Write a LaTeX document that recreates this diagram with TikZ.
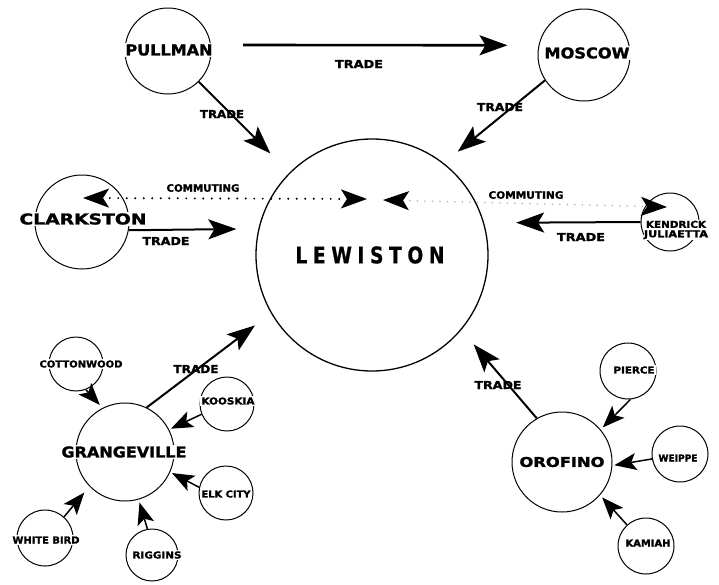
\documentclass[tikz,border=0pt]{standalone}
\usepackage{fontspec}
\usepackage{graphicx}
\newfontfamily\labfont[FakeBold=1.5]{DejaVu Sans Bold}
\newfontfamily\bigfont[FakeBold=0.8]{DejaVu Sans Bold}
\usetikzlibrary{arrows.meta,calc}
\newcommand\mylab[3]{\resizebox{#1pt}{#2pt}{\labfont #3}}
\begin{document}
\begin{tikzpicture}[x=1pt,y=-1pt,
  town/.style={circle,draw,line width=1pt,inner sep=0pt},
  townname/.style={inner sep=1.2pt,fill=white,anchor=center},
  lbl/.style={inner sep=0pt,anchor=center},
  trade/.style={line width=2pt,-{Stealth[length=28pt,width=20pt,inset=6pt,fill=black]}},
  feed/.style={line width=1.5pt,-{Stealth[length=22pt,width=17pt,inset=5pt,fill=black]}},
  commute/.style={line width=2.2pt,line cap=round,dash pattern=on 0pt off 8.5pt,
    {Stealth[length=26pt,width=19pt,inset=6pt,fill=black]}-{Stealth[length=26pt,width=19pt,inset=6pt,fill=black]}}]
\useasboundingbox (0,0) rectangle (719,584);
% circles
\node[town,minimum size=232pt,line width=1.3pt] (lew) at (372,255) {};
\node[town,minimum size=86pt] (pul) at (168,51) {};
\node[town,minimum size=92pt] (mos) at (584,55) {};
\node[town,minimum size=94pt] (cla) at (82,222) {};
\node[town,minimum size=58pt] (ken) at (670,222) {};
\node[town,minimum size=98pt] (gra) at (125,452) {};
\node[town,minimum size=54pt] (cot) at (76,364) {};
\node[town,minimum size=54pt] (koo) at (227,404) {};
\node[town,minimum size=54pt] (elk) at (226,493) {};
\node[town,minimum size=52pt] (rig) at (152,555) {};
\node[town,minimum size=56pt] (whi) at (45,538) {};
\node[town,minimum size=100pt] (oro) at (562,462) {};
\node[town,minimum size=56pt] (pie) at (628,371) {};
\node[town,minimum size=56pt] (wei) at (680,454) {};
\node[town,minimum size=56pt] (kam) at (646,546) {};
% trade arrows
\draw[trade,line width=2.6pt,shorten <=32pt,shorten >=31pt] (pul.8) -- (mos.168);
\draw[trade,shorten >=27pt] (pul) -- (lew);
\draw[trade,shorten >=18pt] (mos.213) -- (lew.52);
\draw[trade,shorten >=22pt] (cla.-10) -- (lew.167.5);
\draw[trade,shorten >=32pt] (ken.180) -- (lew.16.6);
\draw[trade,shorten >=20pt] (gra.64) -- (lew.210);
\draw[trade,shorten >=19pt] (oro.120) -- (lew.-40);
% commuting
\draw[commute] ($(lew)+(-5,-56)$) -- ($(cla)+(1,-24)$);
\draw[commute,draw=gray!60,line width=1.8pt,dash pattern=on 0pt off 7.5pt,
  {Stealth[length=26pt,width=19pt,inset=6pt,black,fill=black]}-{Stealth[length=26pt,width=19pt,inset=6pt,black,fill=black]}]
  ($(lew)+(11,-55)$) -- ($(ken)+(-3,-15)$);
% feeder arrows
\draw[feed,shorten >=4pt] (cot.-69) -- (gra.117);
\draw[feed,shorten >=2pt] (koo.202) -- (gra.27);
\draw[feed,shorten >=2pt] (elk.168) -- (gra.-24);
\draw[feed,shorten >=3pt] (rig.100) -- (gra.-74);
\draw[feed,shorten >=8pt] (whi.48) -- (gra.224);
\draw[feed,shorten >=3pt] (pie.-85) -- (oro.40);
\draw[feed,shorten >=2pt] (wei.190) -- (oro.-4);
\draw[feed,shorten >=3pt] (kam.132) -- (oro.-41);
% town names
\node[townname] (pul-t) at (169,50) {\mylab{87}{11}{PULLMAN}};
\node[townname] (mos-t) at (587,53) {\mylab{85}{11}{MOSCOW}};
\node[townname] (cla-t) at (83,219) {\mylab{127}{11}{CLARKSTON}};
\node[lbl] (lew-t) at (370,255) {\resizebox{149pt}{17pt}{\bigfont L\kern3pt E\kern3pt W\kern3pt I\kern3pt S\kern3pt T\kern3pt O\kern3pt N}};
\node[townname,align=center,inner sep=0.5pt] (ken-t) at (676,230) {\mylab{60}{7}{KENDRICK}\\[-2.5pt]\mylab{64}{7}{JULIAETTA}};
\node[townname] (gra-t) at (124,452) {\mylab{125}{11}{GRANGEVILLE}};
\node[townname] (cot-t) at (81,364) {\mylab{83}{7}{COTTONWOOD}};
\node[townname] (koo-t) at (228,401) {\mylab{53}{7}{KOOSKIA}};
\node[townname] (elk-t) at (226,494) {\mylab{49}{7}{ELK CITY}};
\node[townname] (whi-t) at (46,540) {\mylab{67}{7}{WHITE BIRD}};
\node[townname] (rig-t) at (157,555) {\mylab{49}{7}{RIGGINS}};
\node[townname] (oro-t) at (562,462) {\mylab{85}{10}{OROFINO}};
\node[townname] (pie-t) at (634,370) {\mylab{41}{7}{PIERCE}};
\node[townname] (wei-t) at (678,458) {\mylab{39}{7}{WEIPPE}};
\node[townname] (kam-t) at (648,543) {\mylab{45}{7}{KAMIAH}};
% connector labels
\node[lbl] (t1) at (359,64) {\mylab{48}{8}{TRADE}};
\node[lbl] (t2) at (222,114) {\mylab{44}{8}{TRADE}};
\node[lbl] (t3) at (500,107) {\mylab{46}{8}{TRADE}};
\node[lbl] (t4) at (166,241) {\mylab{47}{8}{TRADE}};
\node[lbl] (t5) at (581,237) {\mylab{48}{8}{TRADE}};
\node[lbl] (t6) at (196,369) {\mylab{45}{8}{TRADE}};
\node[lbl] (t7) at (498,385) {\mylab{47}{8}{TRADE}};
\node[lbl] (c1) at (203,188) {\mylab{73}{7.5}{COMMUTING}};
\node[lbl] (c2) at (526,195) {\mylab{75}{7.5}{COMMUTING}};
\end{tikzpicture}
\end{document}
